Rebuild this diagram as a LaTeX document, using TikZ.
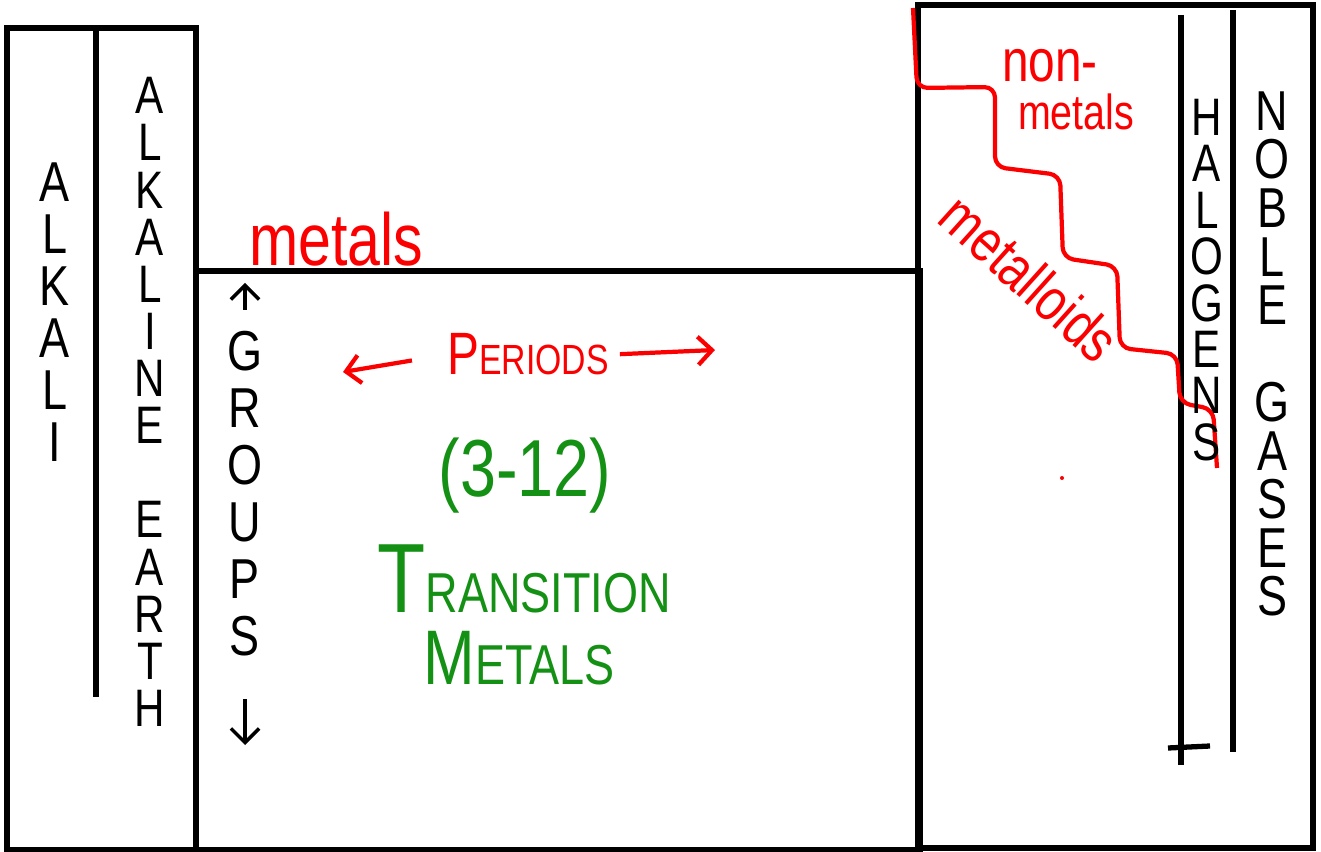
\documentclass[tikz,border=0pt]{standalone}
\usepackage{fontspec}
\setmainfont{Liberation Sans}[FakeStretch=0.8]
\usetikzlibrary{arrows.meta, positioning}
\definecolor{penred}{RGB}{250,0,0}
\definecolor{pengreen}{RGB}{20,145,20}
\tikzstyle{wall}=[line width=1.5pt]
\tikzstyle{stair}=[penred,line width=1.2pt,rounded corners=3pt]
\tikzstyle{column}=[align=center,inner sep=0pt]
\tikzstyle{redtext}=[text=penred,inner sep=0pt,anchor=base]
\tikzstyle{greentext}=[text=pengreen,inner sep=0pt,anchor=base]
\newcommand{\fs}[2]{\fontsize{#1}{#2}\selectfont}

\begin{document}
\begin{tikzpicture}[x=0.01cm,y=-0.01cm,>={Straight Barb[length=4pt]}]
    \useasboundingbox (0,0) rectangle (1321,852);

    \draw[wall] (7,28) rectangle (196,850);
    \draw[wall] (96,30) -- (96,697);
    \draw[wall] (196,271) rectangle (920,850);
    \draw[wall] (918,5) rectangle (1313,848);
    \draw[wall] (1181,15) -- (1181,765);
    \draw[wall] (1233,10) -- (1233,752);
    \draw[wall] (1168,748) -- (1210,746);

    \node[column, font=\fs{16}{14.8}] (alkali) at (55,312) {A\\L\\K\\A\\L\\I};
    \node[column, font=\fs{15}{13.4}] (earth) at (150,402)
        {A\\L\\K\\A\\L\\I\\N\\E\\[13.4pt]E\\A\\R\\T\\H};
    \node[column, font=\fs{16}{16.2}] (groups) at (245,494) {G\\R\\O\\U\\P\\S};
    \coordinate (gup) at (245,283);
    \coordinate (gdown) at (245,745);
    \draw[->, line width=1pt, shorten <=6pt] (groups.north) -- (gup);
    \draw[->, line width=1pt, shorten <=12pt] (groups.south) -- (gdown);

    \node[redtext, font=\fs{21}{26}] (metals) at (336,266) {metals};
    \node[redtext] (periods) at (528,375) {\fs{17}{20}P\fs{12}{14}ERIODS};
    \coordinate (pleft) at (343,372);
    \coordinate (pright) at (715,350);
    \draw[->, penred, line width=1.2pt, shorten <=10pt] (periods.west) -- (pleft);
    \draw[->, penred, line width=1.2pt, shorten <=3pt] (periods.east) -- (pright);

    \node[greentext, font=\fs{23}{28}] (range) at (525,497) {(3-12)};
    \node[greentext] (transition) at (524,612) {\fs{28}{30}T\fs{16}{18}RANSITION};
    \node[greentext] (tmetals) at (519,684) {\fs{22}{24}M\fs{16}{18}ETALS};

    \node[redtext, font=\fs{17}{20}] (non) at (1050,82) {non-};
    \node[redtext, font=\fs{14}{16}] (nonmetals) at (1076,130) {metals};
    \node[redtext, font=\fs{17}{20}, rotate=-42, anchor=center] (metalloids) at (1030,278) {metalloids};
    \draw[stair] (913,8) -- (917,88) -- (995,87) -- (995,167) -- (1060,175)
        -- (1063,258) -- (1117,266) -- (1120,348) -- (1177,354) -- (1180,403)
        -- (1213,409) -- (1217,468);
    \fill[penred] (1062,478) circle (2);

    \node[column, font=\fs{15}{13.2}] (halogens) at (1207,280) {H\\A\\L\\O\\G\\E\\N\\S};
    \node[column, font=\fs{16}{13.8}] (noble) at (1272,354)
        {N\\O\\B\\L\\E\\[13.8pt]G\\A\\S\\E\\S};
\end{tikzpicture}
\end{document}
